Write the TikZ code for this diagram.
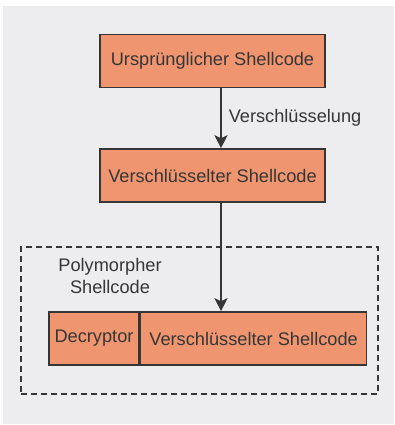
\documentclass[tikz,border=0pt]{standalone}
\usepackage{fontspec}
\setmainfont{Liberation Sans}
\usetikzlibrary{arrows.meta}
\definecolor{bgpanel}{HTML}{EDEDEF}
\definecolor{salmon}{HTML}{EF956F}
\definecolor{inkgray}{HTML}{363636}
\tikzset{
  block/.style={draw=inkgray, fill=salmon, line width=1.6pt, text=inkgray,
    minimum height=53pt, inner sep=0pt, font=\fontsize{18.2}{22}\selectfont},
  flow/.style={draw=inkgray, line width=1.6pt, -{Stealth[length=13pt,width=13pt,inset=3pt]}},
  txt/.style={text=inkgray, font=\fontsize{18.2}{22}\selectfont, inner sep=0pt},
  frame/.style={draw=inkgray, line width=1.4pt, dash pattern=on 6pt off 4pt,
    minimum width=357pt, minimum height=147pt, inner sep=0pt}
}
\begin{document}
\begin{tikzpicture}[x=1pt,y=-1pt]
  \useasboundingbox (0,0) rectangle (395,425);
  \fill[bgpanel] (3,6) rectangle (394,424);

  % outer dashed frame of the polymorphic shellcode
  \node[frame] (poly) at (199.5,320.5) {};
  \node[txt, align=center] (polylabel) at (110,276) {Polymorpher\\Shellcode};

  % blocks
  \node[block, minimum width=225pt] (orig) at (212.5,61) {Ursprünglicher Shellcode};
  \node[block, minimum width=225pt] (enc) at (212.5,175.5) {Verschlüsselter Shellcode};
  \node[block, minimum width=90pt] (dec) at (94,338.5) {Decryptor};
  \node[block, minimum width=226pt, anchor=west] (payload) at (dec.east) {Verschlüsselter Shellcode};

  % arrow axis
  \coordinate (ax) at (221,0);
  \draw[flow] (orig.south -| ax) -- node[txt, right=7pt, pos=0.5] (enclabel) {Verschlüsselung} (enc.north -| ax);
  \draw[flow] (enc.south -| ax) -- (payload.north -| ax);
\end{tikzpicture}
\end{document}
